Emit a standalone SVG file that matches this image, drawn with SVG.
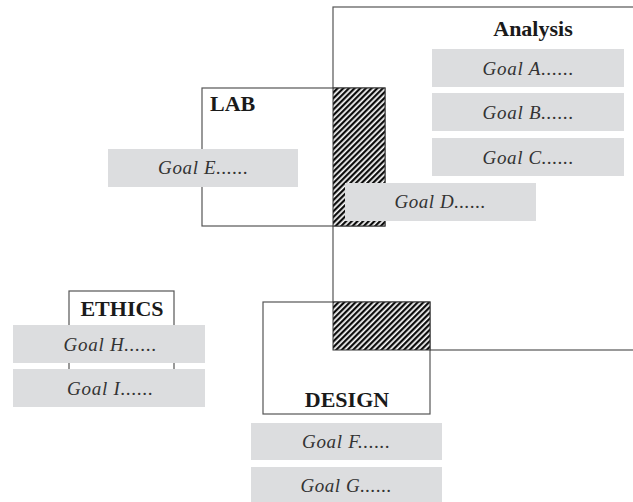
<svg xmlns="http://www.w3.org/2000/svg" width="633" height="502" viewBox="0 0 633 502">
<defs>
<pattern id="hatch" patternUnits="userSpaceOnUse" width="4" height="4" patternTransform="rotate(45)">
<rect width="4" height="4" fill="#fff"/>
<line x1="1.2" y1="-1" x2="1.2" y2="5" stroke="#000" stroke-width="2.2"/>
</pattern>
</defs>
<style>
.frame{fill:#fff;stroke:#555;stroke-width:1.2}
.hatch{fill:url(#hatch);stroke:#333;stroke-width:1}
.goal{fill:#dcdddf}
.gt{font-family:"Liberation Serif",serif;font-style:italic;font-size:19px;fill:#333;text-anchor:middle}
.tt{font-family:"Liberation Serif",serif;font-weight:bold;font-size:22px;fill:#1a1a1a}
</style>
<g id="analysis">
<rect class="frame" x="333" y="7" width="310" height="343"/>
<text class="tt" x="533" y="36" text-anchor="middle">Analysis</text>
</g>
<g id="lab">
<rect class="frame" x="202" y="88" width="183" height="138"/>
<text class="tt" x="210" y="111">LAB</text>
</g>
<g id="design">
<rect class="frame" x="263" y="302" width="167" height="112"/>
<text class="tt" x="347" y="407" text-anchor="middle" font-size="23">DESIGN</text>
</g>
<g id="ethics">
<rect class="frame" x="69" y="291" width="105" height="94"/>
<text class="tt" x="122" y="316" text-anchor="middle" font-size="23">ETHICS</text>
</g>
<g id="overlaps">
<rect class="hatch" x="333" y="88" width="52" height="138"/>
<rect class="hatch" x="333" y="302" width="97" height="48"/>
</g>
<g id="connectors"></g>
<g id="goal-a"><rect class="goal" x="432" y="49" width="192" height="38"/><text class="gt" x="528" y="75" textLength="91">Goal A......</text></g>
<g id="goal-b"><rect class="goal" x="432" y="93" width="192" height="38"/><text class="gt" x="528" y="119" textLength="91">Goal B......</text></g>
<g id="goal-c"><rect class="goal" x="432" y="138" width="192" height="38"/><text class="gt" x="528" y="164" textLength="91">Goal C......</text></g>
<g id="goal-d"><rect class="goal" x="345" y="183" width="191" height="38"/><text class="gt" x="440" y="208" textLength="91">Goal D......</text></g>
<g id="goal-e"><rect class="goal" x="108" y="149" width="190" height="38"/><text class="gt" x="203" y="174" textLength="90">Goal E......</text></g>
<g id="goal-h"><rect class="goal" x="13" y="325" width="192" height="38"/><text class="gt" x="110" y="351" textLength="93">Goal H......</text></g>
<g id="goal-i"><rect class="goal" x="13" y="369" width="192" height="38"/><text class="gt" x="110" y="395" textLength="86">Goal I......</text></g>
<g id="goal-f"><rect class="goal" x="251" y="423" width="191" height="37"/><text class="gt" x="346" y="448" textLength="88">Goal F......</text></g>
<g id="goal-g"><rect class="goal" x="251" y="467" width="191" height="38"/><text class="gt" x="346" y="492" textLength="91">Goal G......</text></g>
</svg>
